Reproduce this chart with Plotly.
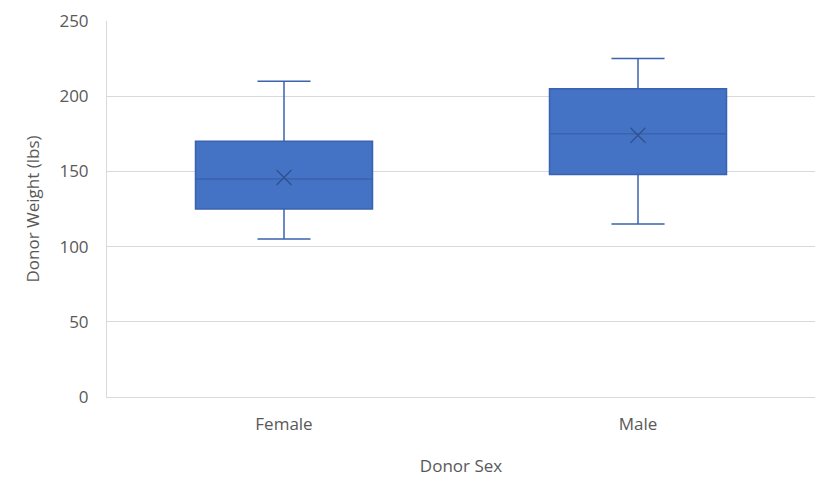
import plotly.graph_objects as go

# Donor weight summary statistics by sex (lbs)
categories = ["Female", "Male"]
lower_whisker = [105, 115]
q1_values = [125, 148]
median_values = [145, 175]
q3_values = [170, 205]
upper_whisker = [210, 225]
mean_values = [146, 174]

y_ticks = [0, 50, 100, 150, 200, 250]

FILL = "#4472C4"
EDGE = "#3A62AE"
MEAN_EDGE = "#2F528F"
GRID = "#D9D9D9"
TEXT = "#595959"
FONT = "'Open Sans', sans-serif"
SIZE = 17

fig = go.Figure()

fig.add_trace(go.Box(
    x=categories,
    q1=q1_values,
    median=median_values,
    q3=q3_values,
    lowerfence=lower_whisker,
    upperfence=upper_whisker,
    fillcolor=FILL,
    line=dict(color=EDGE, width=1.5),
    width=0.5,
    whiskerwidth=0.3,
    boxpoints=False,
    hoverinfo="skip",
    showlegend=False,
))

# Mean markers drawn as an "x" on each box
fig.add_trace(go.Scatter(
    x=categories,
    y=mean_values,
    mode="markers",
    marker=dict(symbol="x-thin-open", size=15,
                line=dict(color=MEAN_EDGE, width=1.3), color=MEAN_EDGE),
    hoverinfo="skip",
    showlegend=False,
))

fig.update_layout(
    width=817,
    height=486,
    margin=dict(l=107, r=2, t=21, b=89),
    paper_bgcolor="white",
    plot_bgcolor="white",
    font=dict(family=FONT, size=SIZE, color=TEXT),
    xaxis=dict(
        type="category",
        range=[-0.5, 1.5],
        showgrid=False,
        showline=True,
        linecolor=GRID,
        linewidth=1,
        ticks="",
        ticklabelstandoff=12,
        tickfont=dict(family=FONT, size=SIZE, color=TEXT),
        title=dict(text="Donor Sex", standoff=25,
                   font=dict(family=FONT, size=SIZE, color=TEXT)),
        zeroline=False,
    ),
    yaxis=dict(
        range=[0, 250],
        tickvals=y_ticks,
        showgrid=True,
        gridcolor=GRID,
        gridwidth=1,
        showline=True,
        linecolor=GRID,
        linewidth=1,
        ticks="",
        ticklabelstandoff=14,
        tickfont=dict(family=FONT, size=SIZE, color=TEXT),
        title=dict(text="Donor Weight (lbs)", standoff=15,
                   font=dict(family=FONT, size=SIZE, color=TEXT)),
        zeroline=False,
    ),
)

fig.write_html("out.html")
